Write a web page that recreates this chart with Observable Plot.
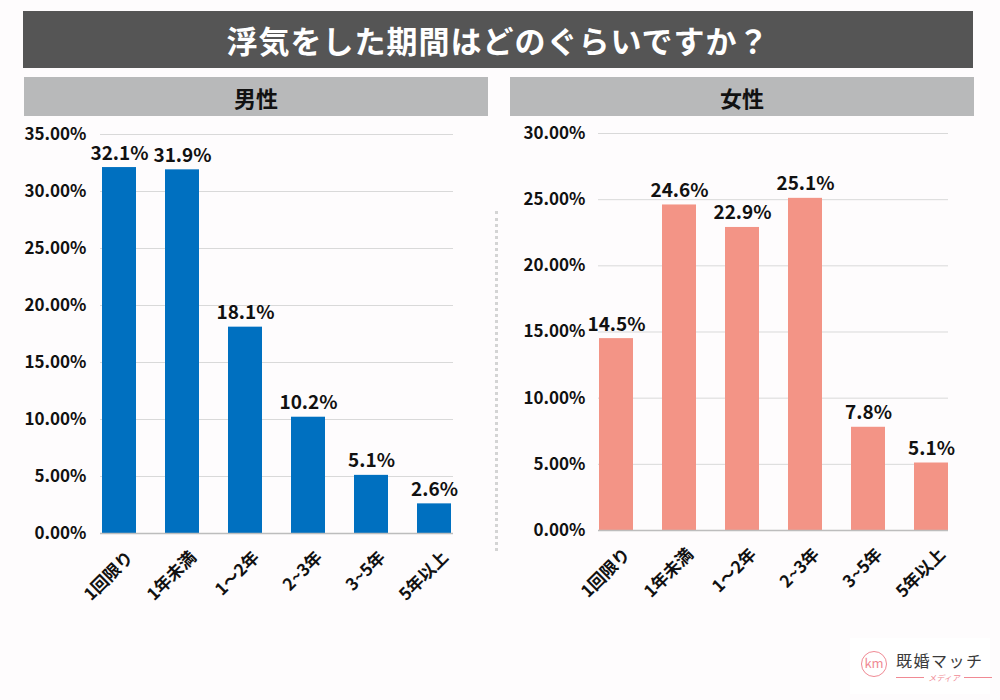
<!DOCTYPE html>
<html>
<head>
<meta charset="utf-8">
<script src="https://cdn.jsdelivr.net/npm/d3@7"></script>
<script src="https://cdn.jsdelivr.net/npm/@observablehq/plot@0.6"></script>
<style>
  html, body { margin: 0; padding: 0; background: #fefcfd; }
  #root { position: relative; width: 1000px; height: 700px; overflow: hidden;
          font-family: "Noto Sans CJK JP", "Noto Sans", sans-serif; }
  .bar-title { position: absolute; left: 23px; top: 11px; width: 950px; height: 57px;
               background: #555555; color: #fff; font-size: 31px; font-weight: bold;
               display: flex; align-items: center; justify-content: center; letter-spacing: 1px; }
  .panel-head { position: absolute; top: 77px; height: 39px; background: #b8b9ba; color: #111;
                font-size: 22px; font-weight: bold; display: flex; align-items: center; justify-content: center; }
  .sep { position: absolute; left: 495px; top: 211px; height: 340px; border-left: 3px dotted #d4d4d4; }
  .panel { position: absolute; top: 120px; }
  .logo { position: absolute; left: 850px; top: 638px; width: 140px; height: 56px; background: #fff; }
  .logo .circ { position: absolute; left: 11px; top: 13px; width: 24px; height: 24px; border: 1.3px solid #f08a94;
                border-radius: 50%; color: #f08a94; font-size: 13px; line-height: 22px; text-align: center; }
  .logo .name { position: absolute; left: 46px; top: 10px; font-size: 16px; color: #3a3a3a; letter-spacing: 1.5px;
                font-family: "Noto Sans CJK JP", serif; }
  .logo .sub { position: absolute; left: 46px; top: 34px; width: 96px; font-size: 8px; color: #f08a94;
               display: flex; align-items: center; gap: 4px; font-style: italic; }
  .logo .sub span.l { flex: 1; height: 1px; background: #f08a94; }
</style>
</head>
<body>
<div id="root">
  <div class="bar-title">浮気をした期間はどのぐらいですか？</div>
  <div class="panel-head" style="left:24px;width:464px;">男性</div>
  <div class="panel-head" style="left:510px;width:464px;">女性</div>
  <div class="sep"></div>
  <div class="panel" id="male" style="left:0px;"></div>
  <div class="panel" id="female" style="left:500px;"></div>
  <div class="logo">
    <div class="circ">km</div>
    <div class="name">既婚マッチ</div>
    <div class="sub"><span class="l"></span>メディア<span class="l"></span></div>
  </div>
</div>
<script>
const categories = ["1回限り", "1年未満", "1～2年", "2~3年", "3~5年", "5年以上"];
const maleValues = [32.1, 31.9, 18.1, 10.2, 5.1, 2.6];
const femaleValues = [14.5, 24.6, 22.9, 25.1, 7.8, 5.1];
const maleTicks = [0, 0.05, 0.10, 0.15, 0.20, 0.25, 0.30, 0.35];
const femaleTicks = [0, 0.05, 0.10, 0.15, 0.20, 0.25, 0.30];

const FONT = '"Noto Sans CJK JP", "Noto Sans", sans-serif';

function panel(values, ticks, yMax, color, opts) {
  const data = categories.map((c, i) => ({cat: c, v: values[i] / 100, label: values[i].toFixed(1) + "%"}));
  return Plot.plot({
    width: 500,
    height: 520,
    marginLeft: opts.ml,
    marginRight: opts.mr,
    marginTop: opts.mt,
    marginBottom: opts.mb,
    style: {background: "transparent", fontFamily: FONT, fontSize: "16px", fontWeight: "bold", color: "#111", overflow: "visible"},
    x: {domain: categories, paddingInner: 0.465, paddingOuter: 0, label: null},
    y: {domain: [0, yMax], label: null},
    marks: [
      Plot.ruleY(ticks, {stroke: "#d9d9d9", strokeWidth: 1}),
      Plot.barY(data, {x: "cat", y: "v", fill: color}),
      Plot.ruleY([0], {stroke: "#bdbdbd", strokeWidth: 1.5}),
      Plot.text(data, {x: "cat", y: "v", text: "label", dy: -8, lineAnchor: "bottom", fontSize: 19, fontWeight: "bold", fill: "#111"}),
      Plot.axisY({ticks: ticks, tickFormat: d3.format(".2%"), tickSize: 0, tickPadding: opts.tp, label: null, fontSize: 17, fontWeight: "bold", style: {letterSpacing: "0.4px"}}),
      Plot.axisX({tickSize: 0, tickRotate: -45, tickPadding: 10, dx: 11, dy: 11, label: null, fontSize: 17, fontWeight: "bold"})
    ]
  });
}

document.getElementById("male").append(panel(maleValues, maleTicks, 0.35, "#0070c0", {ml: 100, mr: 47, mt: 14, mb: 107, tp: 14}));
document.getElementById("female").append(panel(femaleValues, femaleTicks, 0.30, "#f39486", {ml: 98, mr: 52, mt: 13, mb: 110, tp: 13}));
</script>
</body>
</html>
